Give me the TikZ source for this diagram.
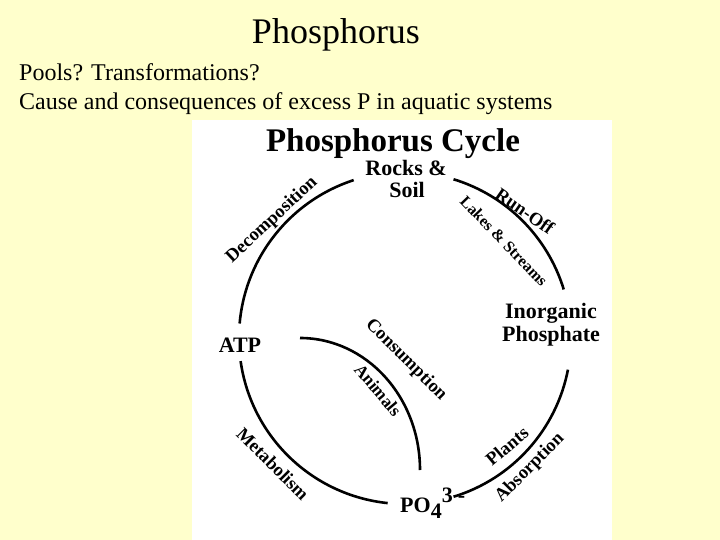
\documentclass[tikz,border=0pt]{standalone}
\usepackage{fontspec}
\setmainfont{Liberation Serif}
\definecolor{slide}{HTML}{FFFFCC}

\begin{document}
\begin{tikzpicture}[
	x=1pt, y=-1pt,
	heading/.style={ font=\fontsize{36}{40}\selectfont, anchor=base, inner sep=0pt },
	question/.style={ font=\fontsize{24}{28}\selectfont, anchor=base west, inner sep=0pt },
	pool/.style={ font=\fontsize{22}{24}\selectfont\bfseries, anchor=base, inner sep=0pt },
	flowlbl/.style={ font=\fontsize{18.5}{20}\selectfont\bfseries, inner sep=0pt },
	cyc/.style={ line width=2.6pt }
]

\fill[slide] (0,0) rectangle (720,540);
\fill[white] (192,120) rectangle (612,540);
\useasboundingbox (0,0) rectangle (720,540);

\node at (336,44) (title) [heading] {Phosphorus};
\node at (19,81) (pools) [question] {Pools? Transformations?};
\node at (19,110) (cause) [question] {Cause and consequences of excess P in aquatic systems};

\node at (393,152) (cyctitle) [pool, font=\fontsize{33}{36}\selectfont\bfseries] {Phosphorus Cycle};

\node at (406,176) (rocks) [pool] {Rocks \&};
\node at (407,197) (soil) [pool] {Soil};
\node at (551,318) (inorg) [pool] {Inorganic};
\node at (551,341) (phosph) [pool] {Phosphate};
\node at (240,352) (atp) [pool] {ATP};
\node at (400,512) (po) [pool, anchor=base west] {PO\raisebox{-6pt}{4}\raisebox{10pt}{3\hspace{5pt}-}};

\node at (272,220) (decomp) [flowlbl, rotate=43] {Decomposition};
\node at (525,211) (runoff) [flowlbl, rotate=-35] {Run-Off};
\node at (504,241) (lakes) [flowlbl, font=\fontsize{16}{18}\selectfont\bfseries, rotate=-46] {Lakes \& Streams};
\node at (406,360) (consum) [flowlbl, rotate=-45] {Consumption};
\node at (378,390) (animals) [flowlbl, font=\fontsize{17.5}{19}\selectfont\bfseries, rotate=-50] {Animals};
\node at (273,464) (metab) [flowlbl, rotate=-45] {Metabolism};
\node at (507,446) (plants) [flowlbl, rotate=40] {Plants};
\node at (530,468) (absorb) [flowlbl, rotate=45] {Absorption};

% outer cycle
\coordinate (cen) at (405,338);
\foreach \a/\b in {175/108, 73/17, -11/-73, 188/264}
	\draw[cyc] ([shift={(\a:166pt)}]cen) arc[start angle=\a, end angle=\b, radius=166pt];

% consumption by animals
\coordinate (inn) at (300,470);
\draw[cyc] ([shift={(0pt,132pt)}]inn) arc[start angle=90, end angle=0, x radius=120pt, y radius=132pt];

\end{tikzpicture}
\end{document}
